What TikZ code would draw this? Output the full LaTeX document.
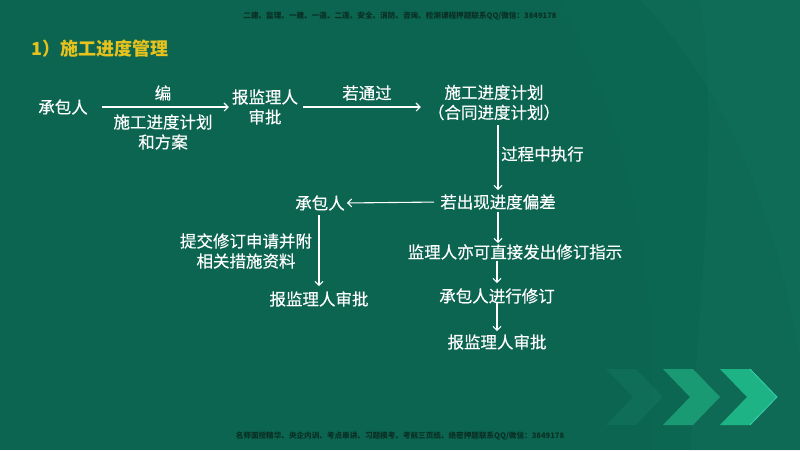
\documentclass[tikz,border=0pt]{standalone}
\usepackage{fontspec}
\setmainfont{Noto Sans CJK SC}
\newfontfamily\medfont{Noto Sans CJK SC}[FakeBold=0.35]
\usetikzlibrary{arrows.meta}
\definecolor{bg}{HTML}{0B6550}
\definecolor{bgl}{HTML}{12705B}
\definecolor{titlecol}{HTML}{E6C21E}
\definecolor{headcol}{HTML}{0A2F25}
\definecolor{chevA}{HTML}{10715A}
\definecolor{chevB}{HTML}{1A9A73}
\definecolor{chevC}{HTML}{1EB384}
\definecolor{chevEdge}{HTML}{3FE0C0}
\tikzset{
  txt/.style={text=white,inner sep=0pt,font=\medfont\fontsize{16.5}{20}\selectfont,align=center},
  small/.style={text=headcol,inner sep=0pt,font=\bfseries\fontsize{7.6}{9}\selectfont},
  arr/.style={draw=white,line width=1.1pt,-{Straight Barb[length=4pt,width=8pt,line width=1.1pt]}},
}
\begin{document}
\begin{tikzpicture}[x=1pt,y=-1pt]
\useasboundingbox (0,0) rectangle (800,450);
\fill[bg] (0,0) rectangle (800,450);
% subtle lighter bands on the right
\fill[bgl,opacity=0.45] (640,0) .. controls (760,120) and (790,300) .. (800,360) -- (800,0) -- cycle;
\fill[bgl,opacity=0.35] (700,0) .. controls (720,120) and (700,300) .. (690,450) -- (800,450) -- (800,0) -- cycle;
\fill[bgl,opacity=0.25] (560,0) .. controls (640,150) and (660,300) .. (650,450) -- (800,450) -- (800,0) -- cycle;
% chevrons
\fill[chevA,opacity=0.8] (606,369) -- (636,369) -- (663,397) -- (636,425) -- (606,425) -- (633,397) -- cycle;
\fill[chevB] (663,369) -- (693,369) -- (720,397) -- (693,425) -- (663,425) -- (690,397) -- cycle;
\fill[chevC] (720,369) -- (750,369) -- (777,397) -- (750,425) -- (720,425) -- (747,397) -- cycle;
\draw[chevEdge,line width=0.8pt,opacity=0.8] (750,369) -- (777,397) -- (750,425);

% header / footer
\node[small] (head) at (400,16) {二建、监理、一建、一造、二造、安全、消防、咨询、检测课程押题联系QQ/微信：3849178};
\node[small] (foot) at (400,436) {名师面授精华、央企内训、考点串讲、习题模考、考前三页纸、绝密押题联系QQ/微信：3849178};

% title
\node[inner sep=0pt,text=titlecol,font=\fontsize{18}{20}\selectfont\bfseries,anchor=west] (title) at (31,49) {1）施工进度管理};

% nodes
\node[txt] (c1) at (63,107) {承包人};
\node[txt] (r1) at (265,107) {报监理人\\审批};
\node[txt] (plan) at (494,102.5) {施工进度计划\\（合同进度计划）};
\node[txt] (dev) at (498,202) {若出现进度偏差};
\node[txt] (c2) at (320,203) {承包人};
\node[txt] (a2) at (319,299) {报监理人审批};
\node[txt] (inst) at (515,252) {监理人亦可直接发出修订指示};
\node[txt] (rev) at (497,296) {承包人进行修订};
\node[txt] (a3) at (497,342) {报监理人审批};

% labels
\node[txt] (l1) at (163,93) {编};
\node[txt] (l2) at (163,132) {施工进度计划\\和方案};
\node[txt] (l3) at (367,93) {若通过};
\node[txt,anchor=west] (l4) at (501,154) {过程中执行};
\node[txt] (l5) at (246,251) {提交修订申请并附\\相关措施资料};

% connectors
\draw[arr,shorten <=14pt,shorten >=3pt] (c1.east) -- (r1.west);
\draw[arr,shorten <=5pt,shorten >=7pt] (r1.east) -- (r1.east -| plan.west);
\draw[arr,shorten <=5pt,shorten >=4pt] (dev.north |- plan.south) -- (dev.north);
\draw[arr,shorten <=6pt,shorten >=2pt] (dev.west) -- (c2.east);
\draw[arr,shorten <=4pt,shorten >=5pt] (c2.south -| a2.north) -- (a2.north);
\draw[arr,shorten <=2pt,shorten >=1pt] (dev.south) -- (dev.south |- inst.north);
\draw[arr,shorten <=1pt,shorten >=5pt] (rev.north |- inst.south) -- (rev.north);
\draw[arr,shorten <=-2pt,shorten >=3pt] (rev.south) -- (a3.north);
\end{tikzpicture}
\end{document}
